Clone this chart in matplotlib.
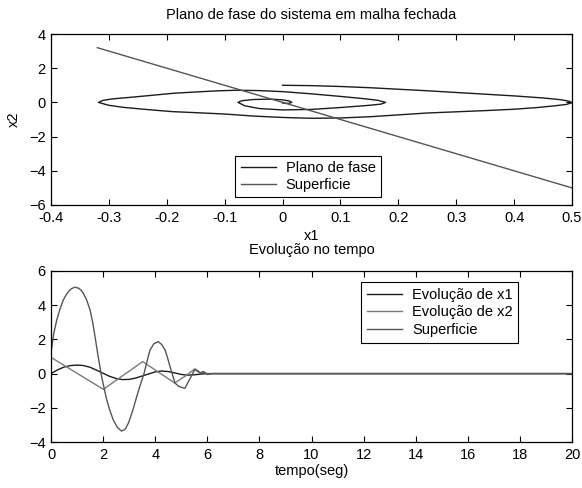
import matplotlib
matplotlib.use("Agg")
import matplotlib.pyplot as plt

plt.rcParams['font.family'] = ['Liberation Sans', 'DejaVu Sans']
plt.rcParams['font.size'] = 10.5

# ---- Phase plane data ----
phase_x1 = [0.0, 0.05, 0.1, 0.15, 0.2, 0.25, 0.3, 0.35, 0.4, 0.45, 0.48, 0.495, 0.5,
            0.49, 0.47, 0.44, 0.4, 0.35, 0.3, 0.25, 0.2, 0.15, 0.1, 0.05, 0.0, -0.05,
            -0.1, -0.15, -0.19, -0.23, -0.275, -0.3, -0.318,
            -0.31, -0.295, -0.275, -0.23, -0.19, -0.15, -0.11, -0.08, -0.04, 0.0, 0.05,
            0.1, 0.14, 0.165, 0.178,
            0.17, 0.15, 0.1, 0.05, 0.0, -0.04, -0.065, -0.077,
            -0.07, -0.05, -0.02, 0.0, 0.012, 0.016, 0.01, 0.0, 0.0]
phase_x2 = [1.0, 0.98, 0.93, 0.86, 0.77, 0.68, 0.58, 0.48, 0.38, 0.26, 0.16, 0.07, -0.02,
            -0.12, -0.2, -0.3, -0.4, -0.48, -0.55, -0.62, -0.73, -0.84, -0.91, -0.93, -0.88, -0.8,
            -0.68, -0.6, -0.54, -0.43, -0.29, -0.17, 0.0,
            0.12, 0.2, 0.26, 0.4, 0.53, 0.61, 0.68, 0.71, 0.69, 0.63, 0.5,
            0.35, 0.22, 0.12, 0.0,
            -0.1, -0.17, -0.3, -0.41, -0.44, -0.36, -0.2, 0.0,
            0.1, 0.17, 0.19, 0.15, 0.08, 0.0, -0.06, -0.04, 0.0]
surf_x1 = [-0.32, 0.5]
surf_x2 = [3.2, -5.0]

x1_ticks = [-0.4, -0.3, -0.2, -0.1, 0, 0.1, 0.2, 0.3, 0.4, 0.5]
x1_ticklabels = ['-0.4', '-0.3', '-0.2', '-0.1', '0', '0.1', '0.2', '0.3', '0.4', '0.5']
x2_ticks = [-6, -4, -2, 0, 2, 4]

# ---- Time evolution data ----
t_x1 = [0, 0.25, 0.5, 0.75, 1.0, 1.25, 1.5, 1.75, 2.0, 2.25, 2.5, 2.75, 3.0, 3.25, 3.5,
        3.75, 4.0, 4.25, 4.5, 4.75, 5.0, 5.25, 5.5, 5.75, 6.0, 6.25, 20]
x1_vals = [0.0, 0.22, 0.38, 0.47, 0.5, 0.47, 0.37, 0.2, 0.02, -0.16, -0.29, -0.35, -0.34,
           -0.26, -0.14, -0.02, 0.1, 0.15, 0.12, 0.04, -0.05, -0.09, -0.07, -0.03, 0.0, 0.0, 0.0]

t_x2 = [0, 2.01, 3.52, 4.75, 5.2, 5.5, 5.7, 5.85, 6.0, 6.2, 20]
x2_vals = [0.95, -0.92, 0.7, -0.55, -0.1, 0.25, 0.05, 0.12, -0.03, 0.0, 0.0]

t_s = [0, 0.1, 0.22, 0.35, 0.47, 0.6, 0.7, 0.8, 0.92, 1.05, 1.15, 1.24, 1.37, 1.5, 1.6,
       1.69, 1.8, 1.92, 2.03, 2.14, 2.27, 2.39, 2.55, 2.71, 2.85, 2.97, 3.13, 3.29, 3.43,
       3.57, 3.7, 3.8, 3.95, 4.12, 4.25, 4.38, 4.47, 4.57, 4.67, 4.76, 4.88, 5.0, 5.14,
       5.3, 5.42, 5.53, 5.65, 5.75, 5.85, 6.0, 6.2, 20]
s_vals = [1.2, 2.3, 3.13, 3.8, 4.3, 4.65, 4.85, 4.98, 5.05, 5.0, 4.88, 4.7, 4.3, 3.72, 3.0,
          2.16, 1.1, 0.0, -0.8, -1.54, -2.2, -2.71, -3.15, -3.36, -3.25, -2.9, -2.2, -1.35,
          -0.65, 0.0, 0.8, 1.38, 1.75, 1.87, 1.7, 1.38, 0.95, 0.4, -0.1, -0.55, -0.72, -0.8,
          -0.86, -0.4, -0.05, 0.27, 0.15, 0.0, 0.12, -0.05, 0.0, 0.0]

t_ticks = [0, 2, 4, 6, 8, 10, 12, 14, 16, 18, 20]
y_ticks = [-4, -2, 0, 2, 4, 6]

c_x1 = '#1c1c1c'
c_x2 = '#7a7a7a'
c_s = '#555555'

fig = plt.figure(figsize=(5.82, 4.88), dpi=100)
ax1 = fig.add_axes([51 / 582, 1 - 205 / 488, 521 / 582, 171 / 488])
ax2 = fig.add_axes([51 / 582, 1 - 442 / 488, 521 / 582, 171 / 488])

for ax in (ax1, ax2):
    ax.tick_params(direction='in', top=True, right=True, length=4, width=0.8, pad=4,
                   labelsize=10.5)
    for sp in ax.spines.values():
        sp.set_linewidth(0.9)

ax1.plot(phase_x1, phase_x2, color=c_x1, lw=1.0, label='Plano de fase')
ax1.plot(surf_x1, surf_x2, color=c_s, lw=1.0, label='Superficie')
ax1.set_xlim(-0.4, 0.5)
ax1.set_ylim(-6, 4)
ax1.set_xticks(x1_ticks)
ax1.set_xticklabels(x1_ticklabels)
ax1.set_yticks(x2_ticks)
ax1.set_title('Plano de fase do sistema em malha fechada', fontsize=10.5, pad=11)
ax1.set_xlabel('x1', fontsize=10.5, labelpad=3)
ax1.set_ylabel('x2', fontsize=10.5, labelpad=6)
leg1 = ax1.legend(loc='lower left', bbox_to_anchor=(0.354, 0.044),
                  fancybox=False, framealpha=1, edgecolor='black', fontsize=10.5,
                  handlelength=2.4, handletextpad=0.7, borderpad=0.35,
                  labelspacing=0.2, borderaxespad=0)
leg1.get_frame().set_linewidth(0.8)

ax2.plot(t_x1, x1_vals, color=c_x1, lw=1.0, label='Evolução de x1')
ax2.plot(t_x2, x2_vals, color=c_x2, lw=1.0, label='Evolução de x2')
ax2.plot(t_s, s_vals, color=c_s, lw=1.0, label='Superficie')
ax2.set_xlim(0, 20)
ax2.set_ylim(-4, 6)
ax2.set_xticks(t_ticks)
ax2.set_yticks(y_ticks)
ax2.set_title('Evolução no tempo', fontsize=10.5, pad=12)
ax2.set_xlabel('tempo(seg)', fontsize=10.5, labelpad=2)
leg2 = ax2.legend(loc='upper left', bbox_to_anchor=(0.595, 0.936),
                  fancybox=False, framealpha=1, edgecolor='black', fontsize=10.5,
                  handlelength=2.4, handletextpad=0.7, borderpad=0.4,
                  labelspacing=0.25, borderaxespad=0)
leg2.get_frame().set_linewidth(0.8)

fig.savefig('out.png', dpi=100)
